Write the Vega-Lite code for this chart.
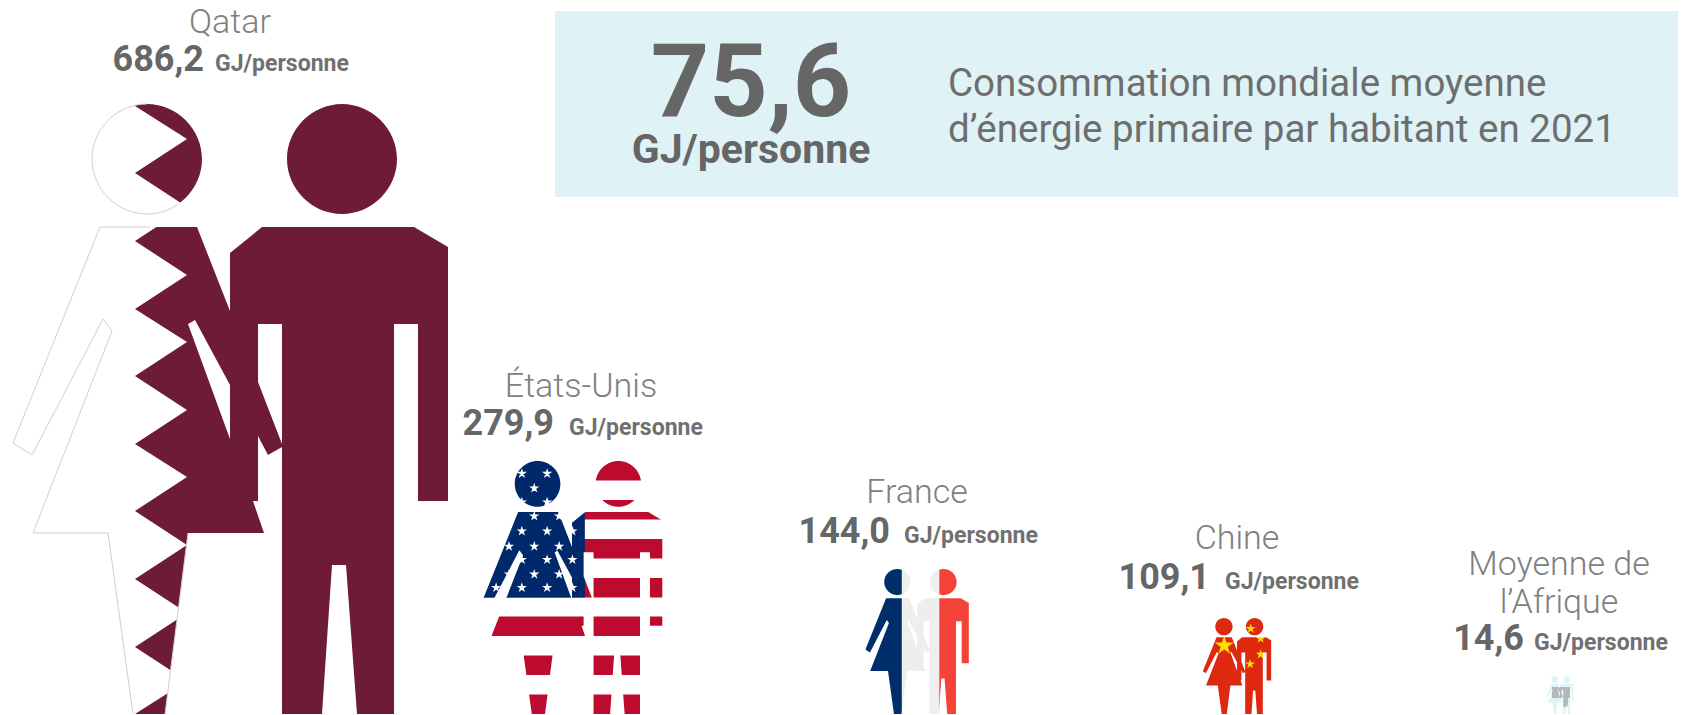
{"$schema":"https://vega.github.io/schema/vega-lite/v6.json","width":1683,"height":715,"padding":0,"autosize":{"type":"fit","contains":"padding"},"background":"white","view":{"stroke":null},
"datasets":{
"figures":[
{"pays":"Qatar","rang":1,"valeur":686.2,"partie":"Qatar bordeaux"},{"pays":"Qatar","rang":1,"valeur":686.2,"partie":"masque"},{"pays":"Qatar","rang":1,"valeur":686.2,"partie":"Qatar contour"},
{"pays":"États-Unis","rang":2,"valeur":279.9,"partie":"USA rouge"},{"pays":"États-Unis","rang":2,"valeur":279.9,"partie":"USA bleu"},{"pays":"États-Unis","rang":2,"valeur":279.9,"partie":"USA étoiles"},{"pays":"États-Unis","rang":2,"valeur":279.9,"partie":"masque"},
{"pays":"France","rang":3,"valeur":144.0,"partie":"France gris"},{"pays":"France","rang":3,"valeur":144.0,"partie":"France bleu"},{"pays":"France","rang":3,"valeur":144.0,"partie":"France rouge"},{"pays":"France","rang":3,"valeur":144.0,"partie":"masque"},
{"pays":"Chine","rang":4,"valeur":109.1,"partie":"Chine rouge"},{"pays":"Chine","rang":4,"valeur":109.1,"partie":"Chine étoiles"},{"pays":"Chine","rang":4,"valeur":109.1,"partie":"masque"},
{"pays":"Afrique","rang":5,"valeur":14.6,"partie":"Afrique fond"},{"pays":"Afrique","rang":5,"valeur":14.6,"partie":"Afrique carte"},{"pays":"Afrique","rang":5,"valeur":14.6,"partie":"masque"}
],
"pays":[
{"nom":"Qatar","rang":1,"valeur":686.2,"texte":"686,2","unite":"GJ/personne"},
{"nom":"États-Unis","rang":2,"valeur":279.9,"texte":"279,9","unite":"GJ/personne"},
{"nom":"France","rang":3,"valeur":144.0,"texte":"144,0","unite":"GJ/personne"},
{"nom":"Chine","rang":4,"valeur":109.1,"texte":"109,1","unite":"GJ/personne"},
{"nom":"Moyenne de\nl’Afrique","rang":5,"valeur":14.6,"texte":"14,6","unite":"GJ/personne"}
],
"monde":[{"zone":"Monde","valeur":75.6,"texte":"75,6","unite":"GJ/personne","ligne1":"Consommation mondiale moyenne","ligne2":"d’énergie primaire par habitant en 2021"}]
},
"layer":[
{"data":{"name":"monde"},"mark":{"type":"rect","fill":"#dff3f7"},"encoding":{
"x":{"datum":555,"type":"quantitative","scale":{"domain":[0,1683],"range":[0,1683]},"axis":null},"x2":{"datum":1678},
"y":{"datum":11,"type":"quantitative","scale":{"domain":[0,715],"range":[0,715]},"axis":null},"y2":{"datum":197}}},
{"data":{"name":"figures"},"mark":{"type":"point","filled":true,"opacity":1,"strokeWidth":1},"encoding":{
"x":{"field":"rang","type":"quantitative","scale":{"domain":[1,2,3,4,5],"range":[230,572,917,1237,1560]},"axis":null},
"y":{"datum":0,"type":"quantitative","scale":{"domain":[0,1],"range":[714,0]},"axis":null},
"size":{"field":"valeur","type":"quantitative","legend":null,"scale":{"domain":[14.6,109.1,144,279.9,686.2],"range":[0.01552,0.0991,0.226,0.6876,4]}},
"fill":{"field":"partie","type":"nominal","legend":null,"scale":{
"domain":["Qatar bordeaux","Qatar contour","USA rouge","USA bleu","USA étoiles","France gris","France bleu","France rouge","Chine rouge","Chine étoiles","Afrique fond","Afrique carte","masque"],
"range":["#6e1a39","transparent","#bd0b2f","#00296b","#ffffff","#eeeeee","#002e6b","#f44336","#de2910","#ffde00","#dff4f6","#b0b8ba","#ffffff"]}},
"stroke":{"field":"partie","type":"nominal","legend":null,"scale":{
"domain":["Qatar bordeaux","Qatar contour","USA rouge","USA bleu","USA étoiles","France gris","France bleu","France rouge","Chine rouge","Chine étoiles","Afrique fond","Afrique carte","masque"],
"range":["transparent","#cfcfcf","transparent","transparent","transparent","transparent","transparent","transparent","transparent","transparent","transparent","transparent","transparent"]}},
"shape":{"field":"partie","type":"nominal","legend":null,"scale":{
"domain":["Qatar bordeaux","Qatar contour","USA rouge","USA bleu","USA étoiles","France gris","France bleu","France rouge","Chine rouge","Chine étoiles","Afrique fond","Afrique carte","masque"],
"range":[
"M-95,-611L-95,-608L-43,-575L-95,-541L-43,-507L-95,-473L-43,-439L-95,-405L-43,-372L-95,-338L-43,-304L-95,-270L-43,-237L-95,-203L-43,-169L-95,-135L-43,-101L-95,-67L-43,-33L-95,0L-95,2L219,2L219,-611Z",
"M-80,-487L-130,-487L-217,-271L-198,-259L-127,-395L-118,-383L-197,-181L-122,-181L-97,0M-42,-181L-65,0M-83,-610C-113,-610 -138,-585 -138,-555C-138,-525 -113,-500 -83,-500C-70,-500 -60,-504 -52,-510",
"M-218,-611H219V-563H-218ZM-218,-516H219V-469H-218ZM-218,-422H219V-375H-218ZM-218,-328H219V-281H-218ZM-218,-235H219V-188H-218ZM-218,-141H219V-94H-218ZM-218,-47H219V2H-218Z",
"M-218,-611H31V-281H-218Z",
"M-121,-593l7.6,23.5l-20,-14.5l24.8,0l-20,14.5zM-60,-593l7.6,23.5l-20,-14.5l24.8,0l-20,14.5zM-91,-558l7.6,23.5l-20,-14.5l24.8,0l-20,14.5zM-121,-524l7.6,23.5l-20,-14.5l24.8,0l-20,14.5zM-60,-524l7.6,23.5l-20,-14.5l24.8,0l-20,14.5zM-152,-490l7.6,23.5l-20,-14.5l24.8,0l-20,14.5zM-91,-490l7.6,23.5l-20,-14.5l24.8,0l-20,14.5zM-31,-490l7.6,23.5l-20,-14.5l24.8,0l-20,14.5zM-121,-454l7.6,23.5l-20,-14.5l24.8,0l-20,14.5zM-60,-454l7.6,23.5l-20,-14.5l24.8,0l-20,14.5zM1,-454l7.6,23.5l-20,-14.5l24.8,0l-20,14.5zM-152,-417l7.6,23.5l-20,-14.5l24.8,0l-20,14.5zM-91,-417l7.6,23.5l-20,-14.5l24.8,0l-20,14.5zM-31,-417l7.6,23.5l-20,-14.5l24.8,0l-20,14.5zM-121,-385l7.6,23.5l-20,-14.5l24.8,0l-20,14.5zM-60,-385l7.6,23.5l-20,-14.5l24.8,0l-20,14.5zM1,-385l7.6,23.5l-20,-14.5l24.8,0l-20,14.5zM-152,-350l7.6,23.5l-20,-14.5l24.8,0l-20,14.5zM-91,-350l7.6,23.5l-20,-14.5l24.8,0l-20,14.5zM-31,-350l7.6,23.5l-20,-14.5l24.8,0l-20,14.5zM-183,-318l7.6,23.5l-20,-14.5l24.8,0l-20,14.5zM-121,-318l7.6,23.5l-20,-14.5l24.8,0l-20,14.5zM-60,-318l7.6,23.5l-20,-14.5l24.8,0l-20,14.5zM1,-318l7.6,23.5l-20,-14.5l24.8,0l-20,14.5z",
"M-218,-611H219V2H-218Z",
"M-218,-611H-64V2H-218Z",
"M94,-611H219V2H94Z",
"M-218,-611H219V2H-218Z",
"M-81,-498l37.4,115.7l-98.5,-71.4l122,0l-98.5,71.4zM87,-575l19,58.8l-50,-36.3l62,0l-50,36.3zM150,-512l19,58.8l-50,-36.3l62,0l-50,36.3zM150,-412l19,58.8l-50,-36.3l62,0l-50,36.3zM83,-349l19,58.8l-50,-36.3l62,0l-50,36.3z",
"M-218,-611H219V2H-218Z",
"M-128,-433H160V-257H128V-112H32V-257H-128Z",
"M-226,-640V30H226V-640ZM-130,-487L-33,-487L0,-403L0,-461L32,-487L184,-487L218,-467L218,-213L188,-213L188,-390L164,-390L164,0L127,0L116,-149L102,-149L92,0L52,0L52,-267L38,-259L28,-278L28,-213L23,-213L34,-181L-42,-181L-65,0L-97,0L-122,-181L-197,-181L-118,-383L-127,-395L-198,-259L-217,-271ZM-138,-555C-138,-585 -113,-610 -83,-610C-53,-610 -28,-585 -28,-555C-28,-525 -53,-500 -83,-500C-113,-500 -138,-525 -138,-555ZM57,-555C57,-585 82,-610 112,-610C142,-610 167,-585 167,-555C167,-525 142,-500 112,-500C82,-500 57,-525 57,-555ZM-42,-390L0,-275L0,-329L-35,-394ZM28,-390L28,-332L52,-270L52,-390Z"
]}}}},
{"data":{"name":"pays"},"mark":{"type":"text","font":"Roboto","fontWeight":300,"fontSize":34,"fill":"#808080","align":"center","baseline":"alphabetic","lineBreak":"\n","lineHeight":38},"encoding":{
"text":{"field":"nom","type":"nominal"},
"x":{"field":"rang","type":"quantitative","scale":{"domain":[1,2,3,4,5],"range":[230,581,917,1237,1559]},"axis":null},
"y":{"field":"valeur","type":"quantitative","scale":{"domain":[14.6,109.1,144,279.9,686.2],"range":[575,549,503,397,33]},"axis":null}}},
{"data":{"name":"pays"},"mark":{"type":"text","font":"Roboto","fontWeight":700,"fontSize":36,"fill":"#666666","align":"right","baseline":"alphabetic"},"encoding":{
"text":{"field":"texte","type":"nominal"},
"x":{"field":"rang","type":"quantitative","scale":{"domain":[1,2,3,4,5],"range":[204,554,890,1210,1524]},"axis":null},
"y":{"field":"valeur","type":"quantitative","scale":{"domain":[14.6,109.1,144,279.9,686.2],"range":[650,589,543,435,71]},"axis":null}}},
{"data":{"name":"pays"},"mark":{"type":"text","font":"Roboto","fontWeight":700,"fontSize":23,"fill":"#707070","align":"left","baseline":"alphabetic"},"encoding":{
"text":{"field":"unite","type":"nominal"},
"x":{"field":"rang","type":"quantitative","scale":{"domain":[1,2,3,4,5],"range":[215,569,904,1225,1534]},"axis":null},
"y":{"field":"valeur","type":"quantitative","scale":{"domain":[14.6,109.1,144,279.9,686.2],"range":[650,589,543,435,71]},"axis":null}}},
{"data":{"name":"monde"},"mark":{"type":"text","font":"Roboto","fontWeight":700,"fontSize":102,"fill":"#666666","align":"center","baseline":"alphabetic"},"encoding":{
"text":{"field":"texte","type":"nominal"},
"x":{"datum":751,"type":"quantitative","scale":{"domain":[0,1683],"range":[0,1683]},"axis":null},
"y":{"datum":116,"type":"quantitative","scale":{"domain":[0,715],"range":[0,715]},"axis":null}}},
{"data":{"name":"monde"},"mark":{"type":"text","font":"Roboto","fontWeight":700,"fontSize":41,"fill":"#666666","align":"center","baseline":"alphabetic"},"encoding":{
"text":{"field":"unite","type":"nominal"},
"x":{"datum":751,"type":"quantitative","scale":{"domain":[0,1683],"range":[0,1683]},"axis":null},
"y":{"datum":163,"type":"quantitative","scale":{"domain":[0,715],"range":[0,715]},"axis":null}}},
{"data":{"name":"monde"},"mark":{"type":"text","font":"Roboto","fontWeight":400,"fontSize":38.5,"fill":"#6e6e6e","align":"left","baseline":"alphabetic"},"encoding":{
"text":{"field":"ligne1","type":"nominal"},
"x":{"datum":948,"type":"quantitative","scale":{"domain":[0,1683],"range":[0,1683]},"axis":null},
"y":{"datum":96,"type":"quantitative","scale":{"domain":[0,715],"range":[0,715]},"axis":null}}},
{"data":{"name":"monde"},"mark":{"type":"text","font":"Roboto","fontWeight":400,"fontSize":38.5,"fill":"#6e6e6e","align":"left","baseline":"alphabetic"},"encoding":{
"text":{"field":"ligne2","type":"nominal"},
"x":{"datum":948,"type":"quantitative","scale":{"domain":[0,1683],"range":[0,1683]},"axis":null},
"y":{"datum":142,"type":"quantitative","scale":{"domain":[0,715],"range":[0,715]},"axis":null}}}
],
"resolve":{"scale":{"x":"independent","y":"independent"}}}
